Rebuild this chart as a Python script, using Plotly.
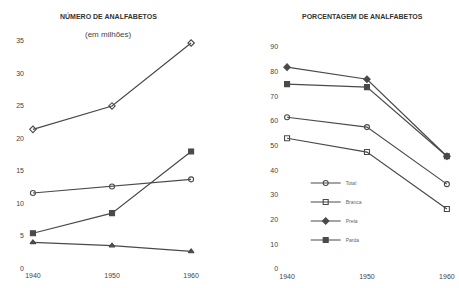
import plotly.graph_objects as go

years = [1940, 1950, 1960]
series_names = ["Total", "Branca", "Preta", "Parda"]

# Número de analfabetos (em milhões)
num_total = [21.4, 25.0, 34.7]
num_branca = [11.6, 12.6, 13.7]
num_preta = [4.0, 3.5, 2.6]
num_parda = [5.4, 8.5, 18.0]

# Porcentagem de analfabetos
pct_total = [61.5, 57.5, 34.4]
pct_branca = [53.0, 47.4, 24.3]
pct_preta = [81.8, 76.9, 45.7]
pct_parda = [74.9, 73.7, 45.7]

left_ticks = [0, 5, 10, 15, 20, 25, 30, 35]
right_ticks = [0, 10, 20, 30, 40, 50, 60, 70, 80, 90]

line_col = "#4a4a4a"
symbols = {"Total": "circle-open", "Branca": "square-open", "Preta": "diamond", "Parda": "square"}
left_symbols = {"Total": "diamond-open", "Branca": "circle-open", "Preta": "triangle-up", "Parda": "square"}

fig = go.Figure()
left_data = {"Total": num_total, "Branca": num_branca, "Preta": num_preta, "Parda": num_parda}
right_data = {"Total": pct_total, "Branca": pct_branca, "Preta": pct_preta, "Parda": pct_parda}

for name in series_names:
    fig.add_trace(go.Scatter(
        x=years, y=left_data[name], mode="lines+markers", name=name,
        xaxis="x", yaxis="y", showlegend=False, cliponaxis=False,
        line=dict(color=line_col, width=1.2),
        marker=dict(symbol=left_symbols[name], size=5, color=line_col,
                    line=dict(color=line_col, width=1.1))))
for name in series_names:
    fig.add_trace(go.Scatter(
        x=years, y=right_data[name], mode="lines+markers", name=name,
        xaxis="x2", yaxis="y2", showlegend=True, cliponaxis=False,
        line=dict(color=line_col, width=1.2),
        marker=dict(symbol=symbols[name], size=5, color=line_col,
                    line=dict(color=line_col, width=1.1))))

tick_font = dict(family="Liberation Sans, Arial, sans-serif", size=7, color="#444444")
axis_common = dict(showgrid=False, zeroline=False, showline=False, ticks="",
                   tickfont=tick_font, automargin=False)

title_font = dict(family="Liberation Sans, Arial, sans-serif", size=7, color="#333333")

fig.update_layout(
    width=459, height=288,
    margin=dict(l=0, r=0, t=0, b=0),
    paper_bgcolor="white", plot_bgcolor="white",
    hovermode=False,
    xaxis=dict(domain=[0.0545, 0.4336], range=[1939, 1961], tickvals=years,
               anchor="y", **axis_common),
    yaxis=dict(domain=[0.0616, 0.9026], range=[-0.3, 37], tickvals=left_ticks,
               anchor="x", **axis_common),
    xaxis2=dict(domain=[0.608, 0.991], range=[1939, 1961], tickvals=years,
                anchor="y2", **axis_common),
    yaxis2=dict(domain=[0.059, 0.880], range=[-0.8, 95], tickvals=right_ticks,
                anchor="x2", **axis_common),
    legend=dict(x=0.666, y=0.415, xanchor="left", yanchor="top",
                font=dict(family="Liberation Sans, Arial, sans-serif", size=5, color="#666666"),
                bgcolor="rgba(0,0,0,0)", itemwidth=30, tracegroupgap=0),
    annotations=[
        dict(text="<b>NÚMERO DE ANALFABETOS</b>", x=108 / 459, y=1 - 16 / 288,
             xref="paper", yref="paper", xanchor="center", yanchor="middle",
             showarrow=False, font=title_font),
        dict(text="(em milhões)", x=108 / 459, y=1 - 34 / 288,
             xref="paper", yref="paper", xanchor="center", yanchor="middle",
             showarrow=False,
             font=dict(family="Liberation Sans, Arial, sans-serif", size=8, color="#444444")),
        dict(text="<b>PORCENTAGEM DE ANALFABETOS</b>", x=362 / 459, y=1 - 16 / 288,
             xref="paper", yref="paper", xanchor="center", yanchor="middle",
             showarrow=False, font=title_font),
    ],
)

fig.write_html("out.html", config={"displayModeBar": False, "staticPlot": True},
               post_script="document.body.style.margin='0';document.body.style.overflow='hidden';")
